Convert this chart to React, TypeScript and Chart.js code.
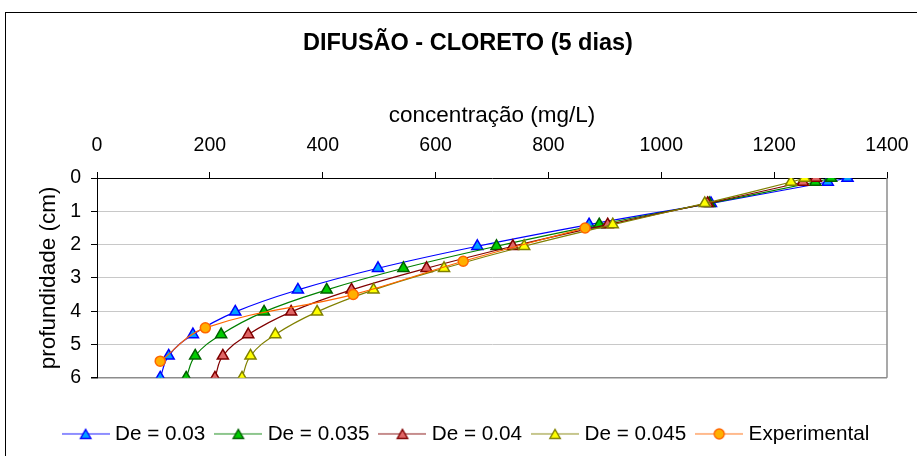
import React, { useEffect, useRef } from 'react';
import { Chart, registerables } from 'chart.js';

Chart.register(...registerables);

// ---- data ----
const depthModel = [0, 0.12, 0.76, 1.4, 2.05, 2.71, 3.36, 4.02, 4.7, 5.34, 6.0];
const de003 = [1330, 1295, 1088, 872, 674, 498, 356, 245, 170, 127, 112];
const de0035 = [1301, 1273, 1085, 890, 708, 543, 407, 296, 220, 174, 158];
const de004 = [1274, 1251, 1082, 905, 737, 584, 451, 344, 268, 223, 209];
const de0045 = [1254, 1230, 1077, 914, 757, 615, 490, 390, 316, 272, 257];
const depthExp = [1.5, 2.5, 3.5, 4.5, 5.5];
const experimental = [865, 649, 454, 192, 112];

const seriesNames = ['De = 0.03', 'De = 0.035', 'De = 0.04', 'De = 0.045', 'Experimental'];
const xTickStep = 200;
const xMax = 1400;
const yTickStep = 1;
const yMax = 6;

const titleText = 'DIFUSÃO - CLORETO (5 dias)';
const xTitle = 'concentração (mg/L)';
const yTitle = 'profundidade (cm)';

// ---- styles ----
const lineColors = ['#0000FF', '#008000', '#800000', '#808000', '#FF6600'];
const fillColors = ['#00A0FF', '#00CC00', '#E06666', '#FFFF00', '#FFB000'];
const markerBorders = ['#0000FF', '#006000', '#800000', '#808000', '#FF6600'];
const markerStyles = ['triangle', 'triangle', 'triangle', 'triangle', 'circle'];

const FONT = '"Liberation Sans", Arial, sans-serif';

function legendImage(i: number): HTMLCanvasElement {
  const c = document.createElement('canvas');
  c.width = 48;
  c.height = 18;
  const ctx = c.getContext('2d')!;
  ctx.globalAlpha = 0.6;
  ctx.strokeStyle = lineColors[i];
  ctx.lineWidth = 1.5;
  ctx.beginPath();
  ctx.moveTo(0, 9);
  ctx.lineTo(48, 9);
  ctx.stroke();
  ctx.globalAlpha = 1;
  ctx.fillStyle = fillColors[i];
  ctx.strokeStyle = markerBorders[i];
  ctx.lineWidth = 1.4;
  ctx.beginPath();
  if (markerStyles[i] === 'triangle') {
    const r = 6;
    const cx = 24;
    const cy = 10.5;
    ctx.moveTo(cx, cy - r);
    ctx.lineTo(cx + r * Math.sin((2 * Math.PI) / 3), cy + r / 2);
    ctx.lineTo(cx - r * Math.sin((2 * Math.PI) / 3), cy + r / 2);
    ctx.closePath();
  } else {
    ctx.arc(24, 9, 5, 0, Math.PI * 2);
  }
  ctx.fill();
  ctx.stroke();
  return c;
}

const plotBorder = {
  id: 'plotBorder',
  beforeDatasetsDraw(chart: any) {
    const { ctx, chartArea } = chart;
    ctx.save();
    ctx.strokeStyle = '#8c8c8c';
    ctx.lineWidth = 1.5;
    ctx.beginPath();
    ctx.moveTo(chartArea.right, chartArea.top);
    ctx.lineTo(chartArea.right, chartArea.bottom);
    ctx.stroke();
    ctx.restore();
  },
};

export default function App() {
  const ref = useRef<HTMLCanvasElement | null>(null);

  useEffect(() => {
    if (!ref.current) return;
    const xs = [de003, de0035, de004, de0045, experimental];
    const ys = [depthModel, depthModel, depthModel, depthModel, depthExp];
    const imgs = seriesNames.map((_, i) => legendImage(i));

    const datasets = seriesNames.map((name, i) => ({
      label: name,
      data: xs[i].map((v, j) => ({ x: v, y: ys[i][j] })),
      borderColor: lineColors[i],
      backgroundColor: fillColors[i],
      pointBackgroundColor: fillColors[i],
      pointBorderColor: markerBorders[i],
      pointStyle: markerStyles[i],
      pointRadius: markerStyles[i] === 'triangle' ? 6.4 : 5,
      pointBorderWidth: 1.5,
      borderWidth: 1.2,
      tension: 0.4,
      showLine: true,
      fill: false,
      order: seriesNames.length - 1 - i,
    }));

    const chart = new Chart(ref.current, {
      type: 'scatter',
      data: { datasets: datasets as any },
      plugins: [plotBorder],
      options: {
        animation: false,
        responsive: false,
        devicePixelRatio: 1,
        layout: { padding: { left: 0, right: 0, top: 0, bottom: 1.75 } },
        font: { family: FONT },
        plugins: {
          tooltip: { enabled: false },
          title: {
            display: true,
            text: titleText,
            color: '#000',
            font: { family: FONT, size: 23.5, weight: 'bold' },
            padding: { top: 29, bottom: 0 },
          },
          legend: {
            display: true,
            position: 'bottom',
            labels: {
              usePointStyle: true,
              pointStyleWidth: 38,
              padding: 14,
              color: '#000',
              font: { family: FONT, size: 20.7 },
              generateLabels: () =>
                seriesNames.map((n, i) => ({
                  text: n,
                  pointStyle: imgs[i] as any,
                  fillStyle: 'transparent',
                  strokeStyle: 'transparent',
                  lineWidth: 0,
                  hidden: false,
                  datasetIndex: i,
                  fontColor: '#000',
                })),
            },
          },
        },
        scales: {
          x: {
            type: 'linear',
            position: 'top',
            min: 0,
            max: xMax,
            ticks: {
              stepSize: xTickStep,
              color: '#000',
              padding: 15,
              font: { family: FONT, size: 19.5 },
              callback: (v: any) => String(v),
            },
            grid: { drawOnChartArea: false, drawTicks: true, tickLength: 6, tickColor: '#000' },
            border: { color: '#000', width: 1 },
            title: {
              display: true,
              text: xTitle,
              color: '#000',
              font: { family: FONT, size: 22.5 },
              padding: { top: 45.3, bottom: 0 },
            },
            afterFit: (s: any) => {
              s.height = 120.8;
            },
          },
          y: {
            type: 'linear',
            position: 'left',
            reverse: true,
            min: 0,
            max: yMax,
            ticks: {
              stepSize: yTickStep,
              color: '#000',
              padding: 10,
              font: { family: FONT, size: 19.5 },
              callback: (v: any) => String(v),
            },
            grid: {
              color: (c: any) =>
                c.tick && c.tick.value === yMax ? '#8c8c8c' : c.tick && c.tick.value === 0 ? 'rgba(0,0,0,0)' : '#c8c8c8',
              lineWidth: (c: any) => (c.tick && c.tick.value === yMax ? 1.5 : 1),
              tickColor: '#000',
              tickLength: 6,
            },
            border: { color: '#000', width: 1 },
            title: {
              display: true,
              text: yTitle,
              color: '#000',
              font: { family: FONT, size: 22.5 },
              padding: { top: 35.5, bottom: 0 },
            },
            afterFit: (s: any) => {
              s.width = 97;
            },
          },
          xPad: {
            type: 'linear',
            axis: 'x',
            position: 'bottom',
            display: true,
            ticks: { display: false },
            grid: { display: false },
            border: { display: false },
            afterFit: (s: any) => {
              s.height = 31.75;
            },
          },
          yPad: {
            type: 'linear',
            axis: 'y',
            position: 'right',
            display: true,
            ticks: { display: false },
            grid: { display: false },
            border: { display: false },
            afterFit: (s: any) => {
              s.width = 49;
            },
          },
        } as any,
      } as any,
    });
    return () => chart.destroy();
  }, []);

  return (
    <div
      style={{
        position: 'fixed',
        left: 0,
        top: 0,
        width: 917,
        height: 456,
        overflow: 'hidden',
        background: '#fff',
      }}
    >
      <div style={{ position: 'absolute', left: 0, top: 0, width: 936, height: 456 }}>
        <canvas ref={ref} width={936} height={456} style={{ display: 'block' }} />
      </div>
      <div
        style={{
          position: 'absolute',
          left: 5,
          top: 12,
          width: 940,
          height: 470,
          border: '1px solid #000',
          pointerEvents: 'none',
        }}
      />
    </div>
  );
}
